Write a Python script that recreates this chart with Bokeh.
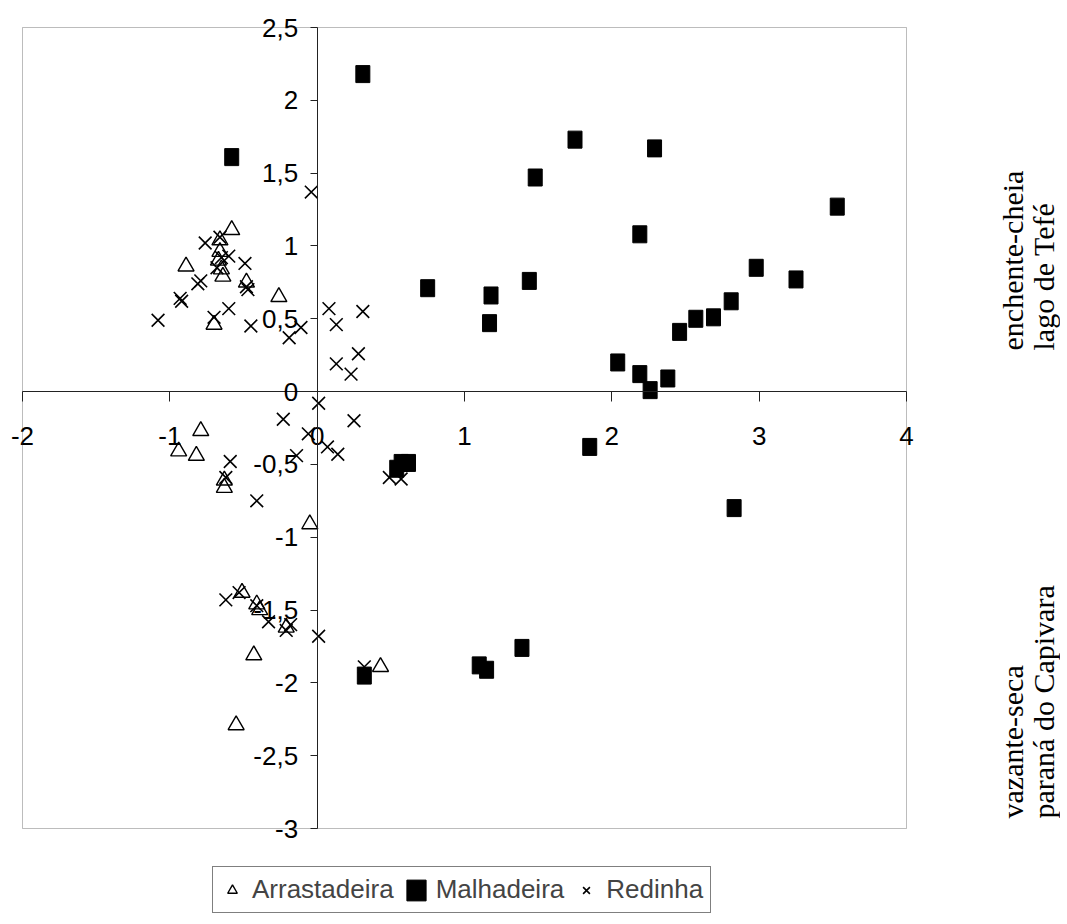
import math
from bokeh.plotting import figure
from bokeh.models import FixedTicker, Legend, LegendItem, Label, Range1d, BoxAnnotation
from bokeh.embed import file_html
from bokeh.resources import INLINE

# ---- data ----
arr_x = [-0.58, -0.89, -0.66, -0.66, -0.67, -0.65, -0.64, -0.26, -0.70, -0.48,
         -0.79, -0.94, -0.82, -0.63, -0.63, -0.05, -0.51, -0.41, -0.39, -0.21,
         -0.43, -0.55, 0.43]
arr_y = [1.11, 0.86, 1.04, 0.96, 0.90, 0.84, 0.79, 0.65, 0.46, 0.75,
         -0.27, -0.41, -0.44, -0.61, -0.66, -0.91, -1.38, -1.46, -1.50, -1.62,
         -1.81, -2.29, -1.89]

mal_x = [0.31, -0.58, 0.75, 1.18, 1.17, 1.44, 1.48, 1.75, 2.29, 2.19,
         2.98, 3.25, 3.53, 2.81, 2.69, 2.57, 2.46, 2.04, 2.19, 2.26,
         2.38, 0.57, 0.62, 0.54, 1.85, 2.83, 0.32, 1.10, 1.15, 1.39]
mal_y = [2.18, 1.61, 0.71, 0.66, 0.47, 0.76, 1.47, 1.73, 1.67, 1.08,
         0.85, 0.77, 1.27, 0.62, 0.51, 0.50, 0.41, 0.20, 0.12, 0.01,
         0.09, -0.49, -0.49, -0.53, -0.38, -0.80, -1.95, -1.88, -1.91, -1.76]

red_x = [-1.08, -0.93, -0.92, -0.81, -0.79, -0.76, -0.66, -0.60, -0.49, -0.48,
         -0.47, -0.60, -0.70, -0.45, -0.19, -0.11, -0.04, 0.08, 0.13, 0.31,
         0.28, 0.13, 0.23, -0.68, -0.65,
         0.01, -0.23, 0.25, -0.06, 0.07, 0.14, -0.14, -0.59, -0.62, -0.41,
         0.49, 0.57, -0.62, -0.53, -0.41, -0.33, -0.21, -0.18, 0.01, 0.32]
red_y = [0.49, 0.64, 0.62, 0.74, 0.76, 1.02, 1.06, 0.93, 0.88, 0.72,
         0.70, 0.57, 0.51, 0.45, 0.37, 0.44, 1.37, 0.57, 0.46, 0.55,
         0.26, 0.19, 0.12, 0.85, 0.92,
         -0.08, -0.19, -0.20, -0.29, -0.38, -0.43, -0.44, -0.48, -0.59, -0.75,
         -0.59, -0.60, -1.43, -1.38, -1.47, -1.58, -1.64, -1.60, -1.68, -1.89]

series_names = ["Arrastadeira", "Malhadeira", "Redinha"]

x_ticks = [-2, -1, 0, 1, 2, 3, 4]
x_tick_labels = ["-2", "-1", "0", "1", "2", "3", "4"]
y_ticks = [-3, -2.5, -2, -1.5, -1, -0.5, 0, 0.5, 1, 1.5, 2, 2.5]
y_tick_labels = ["-3", "-2,5", "-2", "-1,5", "-1", "-0,5", "0", "0,5", "1", "1,5", "2", "2,5"]
x_min, x_max = -2, 4
y_min, y_max = -3, 2.5

side_top = ["enchente-cheia", "lago de Tefé"]
side_bottom = ["vazante-seca", "paraná do Capivara"]

# ---- layout: the frame covers the whole canvas; the data box is drawn inside ----
W, H = 1060, 914
box_left, box_right, box_top, box_bottom = 22, 906, 27, 828   # canvas px
xs = (x_max - x_min) / (box_right - box_left)
ys = (y_max - y_min) / (box_bottom - box_top)
xr = Range1d(x_min - box_left * xs, x_max + (W - box_right) * xs)
yr = Range1d(y_min - (H - box_bottom) * ys, y_max + box_top * ys)

p = figure(frame_width=W, frame_height=H, x_range=xr, y_range=yr,
           min_border=0, output_backend="svg", toolbar_location=None)
p.grid.visible = False
p.outline_line_color = None
p.background_fill_color = "white"
p.border_fill_color = "white"

p.add_layout(BoxAnnotation(left=x_min, right=x_max, bottom=y_min, top=y_max,
                           fill_color=None, line_color="#222222", line_width=1))

label_font = "Liberation Sans"

for ax in p.xaxis:
    ax.fixed_location = 0
    ax.bounds = (x_min, x_max)
    ax.ticker = FixedTicker(ticks=x_ticks)
    ax.major_label_overrides = dict(zip(x_ticks, x_tick_labels))
    ax.major_tick_out = 10
    ax.major_tick_in = 0
    ax.minor_tick_line_color = None
    ax.major_label_standoff = 25
    ax.major_label_text_font = label_font
    ax.major_label_text_font_size = "26px"
    ax.major_label_text_color = "black"
    ax.axis_line_color = "#222222"
    ax.major_tick_line_color = "#222222"

for ax in p.yaxis:
    ax.fixed_location = 0
    ax.bounds = (y_min, y_max)
    ax.ticker = FixedTicker(ticks=y_ticks)
    ax.major_label_overrides = dict(zip(y_ticks, y_tick_labels))
    ax.major_tick_out = 7
    ax.major_tick_in = 0
    ax.minor_tick_line_color = None
    ax.major_label_standoff = 12
    ax.major_label_text_font = label_font
    ax.major_label_text_font_size = "26px"
    ax.major_label_text_color = "black"
    ax.axis_line_color = "#222222"
    ax.major_tick_line_color = "#222222"

r_arr = p.scatter(arr_x, arr_y, marker="triangle", size=16, fill_color=None,
                  line_color="black", line_width=1.4)
r_mal = p.rect(mal_x, mal_y, width=14, height=17, width_units="screen",
               height_units="screen", fill_color="black", line_color="black")
r_red = p.scatter(red_x, red_y, marker="x", size=18, line_color="black",
                  line_width=1.6)

legend = Legend(items=[LegendItem(label=series_names[0], renderers=[r_arr]),
                       LegendItem(label=series_names[1], renderers=[r_mal]),
                       LegendItem(label=series_names[2], renderers=[r_red])],
                orientation="horizontal", location=(212, 1))
legend.border_line_color = "black"
legend.border_line_width = 1
legend.background_fill_color = "white"
legend.label_text_font = label_font
legend.label_text_font_size = "26px"
legend.glyph_width = 24
legend.glyph_height = 26
legend.label_standoff = 8
legend.spacing = 10
legend.padding = 7
legend.margin = 0
p.add_layout(legend, "center")

serif = "Liberation Serif"
for i, txt in enumerate(side_top):
    p.add_layout(Label(x=1012 + 31 * i, y=564, x_units="screen", y_units="screen",
                       text=txt, angle=math.pi / 2, text_align="left",
                       text_baseline="alphabetic", text_font=serif,
                       text_font_size="30px", text_color="black"))
for i, txt in enumerate(side_bottom):
    p.add_layout(Label(x=1012 + 31 * i, y=96, x_units="screen", y_units="screen",
                       text=txt, angle=math.pi / 2, text_align="left",
                       text_baseline="alphabetic", text_font=serif,
                       text_font_size="30px", text_color="black"))

open("out.html", "w").write(file_html(p, INLINE))
